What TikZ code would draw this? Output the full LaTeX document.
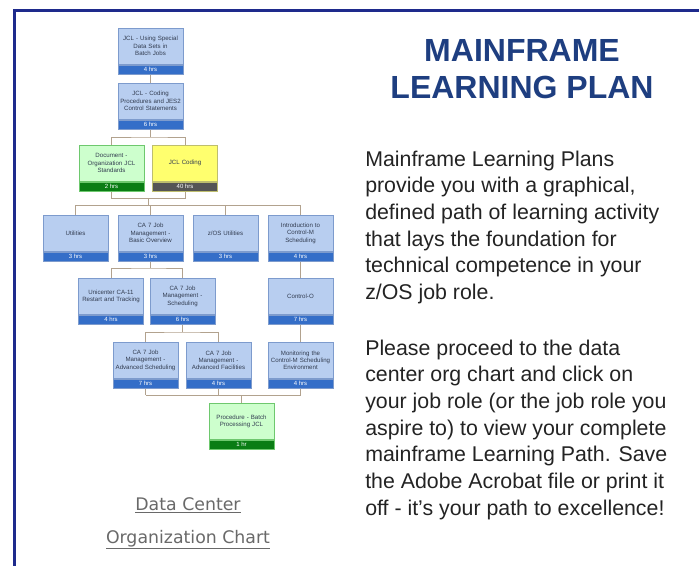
\documentclass[tikz,border=0pt]{standalone}
\usepackage{fontspec}
\setmainfont{Liberation Sans}
\newfontfamily\linkfont{DejaVu Sans}
\usetikzlibrary{backgrounds}
\definecolor{framenavy}{RGB}{30,42,140}
\definecolor{titleblue}{RGB}{30,62,128}
\definecolor{bodytext}{RGB}{35,35,35}
\definecolor{linkgray}{RGB}{105,105,105}
\definecolor{linktan}{RGB}{178,162,142}
\definecolor{boxtext}{RGB}{50,60,80}
\definecolor{blueline}{RGB}{125,155,205}
\definecolor{bluefill}{RGB}{184,206,240}
\definecolor{blueband}{RGB}{52,110,200}
\definecolor{greenline}{RGB}{110,200,110}
\definecolor{greenfill}{RGB}{205,255,205}
\definecolor{greenband}{RGB}{10,125,20}
\definecolor{yellowline}{RGB}{190,190,110}
\definecolor{yellowfill}{RGB}{255,255,110}
\definecolor{yellowband}{RGB}{85,85,85}
\tikzset{
  course/.style={anchor=north, rectangle, draw=#1line, fill=#1fill, minimum width=48.75pt,
    minimum height=27pt, inner sep=0.2pt, text width=48.3pt, align=center,
    font=\fontsize{4.6}{5.6}\selectfont, text=boxtext},
  course/.default=blue,
  hrs/.style={fill=#1band, draw=#1line, minimum width=48.75pt, minimum height=6.75pt,
    inner sep=0pt, text=white, font=\fontsize{4.5}{4.5}\selectfont},
  link/.style={draw=linktan, line width=0.75pt},
  blurb/.style={anchor=base west, align=left, inner sep=0pt, text=bodytext,
    font=\fontsize{16}{20}\selectfont}
}
\newcommand{\course}[5][blue]{\node[course=#1, label={[hrs=#1]below:#5}] (#2) at (#3) {#4};}
\begin{document}
\begin{tikzpicture}[x=0.75pt,y=-0.75pt]
\useasboundingbox (0,0) rectangle (699,565);
\draw[framenavy, line width=2.25pt] (14,566) -- (14,10) -- (700,10);

\course{jclsds}{150.5,28}{JCL - Using Special\\Data Sets in\\Batch Jobs}{4 hrs}
\course{jclproc}{150.5,83}{JCL - Coding\\Procedures and JES2\\Control Statements}{6 hrs}
\course[green]{orgstd}{111.5,145}{Document -\\Organization JCL\\Standards}{2 hrs}
\course[yellow]{jclcode}{185,145}{JCL Coding}{40 hrs}
\course{util}{75.5,215}{Utilities}{3 hrs}
\course{cabasic}{150.5,215}{CA 7 Job\\Management -\\Basic Overview}{3 hrs}
\course{zosutil}{225.5,215}{z/OS Utilities}{3 hrs}
\course{intro}{300.5,215}{Introduction to\\Control-M\\Scheduling}{4 hrs}
\course{caeleven}{111,278}{Unicenter CA-11\\Restart and Tracking}{4 hrs}
\course{casched}{182.5,278}{CA 7 Job\\Management -\\Scheduling}{6 hrs}
\course{controlo}{300.5,278}{Control-O}{7 hrs}
\course{caadvsch}{145.5,342}{CA 7 Job\\Management -\\Advanced Scheduling}{7 hrs}
\course{caadvfac}{218.5,342}{CA 7 Job\\Management -\\Advanced Facilities}{4 hrs}
\course{monitor}{300.5,342}{Monitoring the\\Control-M Scheduling\\Environment}{4 hrs}
\course[green]{batchproc}{241.5,403}{Procedure - Batch\\Processing JCL}{1 hr}

\begin{scope}[on background layer]
\draw[link] (jclsds) -- (jclproc);
\draw[link] (jclproc) -- (jclproc |- 0,137) coordinate (split1);
\draw[link] (orgstd) |- (split1) -| (jclcode);
\draw[link] (orgstd) -- (orgstd |- 0,198) -| (jclcode);
\coordinate (join2) at (148,198);
\draw[link] (join2) -- (join2 |- 0,205);
\draw[link] (util |- 0,205) -- (intro |- 0,205);
\foreach \n in {util,cabasic,zosutil,intro}
  \draw[link] (\n |- 0,205) -- (\n);
\draw[link] (cabasic) -- (cabasic |- 0,268) coordinate (split4);
\draw[link] (caeleven) |- (split4) -| (casched);
\draw[link] (intro) -- (controlo);
\draw[link] (controlo) -- (monitor);
\draw[link] (casched) -- (casched |- 0,332) coordinate (split5);
\draw[link] (caadvsch) |- (split5) -| (caadvfac);
\foreach \n in {caadvsch,caadvfac,monitor}
  \draw[link] (\n) -- (\n |- 0,395);
\draw[link] (caadvsch |- 0,395) -- (monitor |- 0,395);
\draw[link] (batchproc |- 0,395) -- (batchproc);
\end{scope}

\node[anchor=base, align=center, text=titleblue, font=\bfseries\fontsize{24}{27.75}\selectfont]
  (heading) at (522,98) {MAINFRAME\\LEARNING PLAN};
\node[blurb] (about) at (365,299.5) {Mainframe Learning Plans\\provide you with a graphical,\\defined path of learning activity\\that lays the foundation for\\technical competence in your\\z/OS job role.};
\node[blurb] (howto) at (365,515) {Please proceed to the data\\center org chart and click on\\your job role (or the job role you\\aspire to) to view your complete\\mainframe Learning Path. Save\\the Adobe Acrobat file or print it\\off - it's your path to excellence!};
\node[anchor=base, align=center, text=linkgray, font=\linkfont\fontsize{13}{24.75}\selectfont]
  (chartlink) at (188,543) {\underline{Data Center}\\\underline{Organization Chart}};
\end{tikzpicture}
\end{document}
